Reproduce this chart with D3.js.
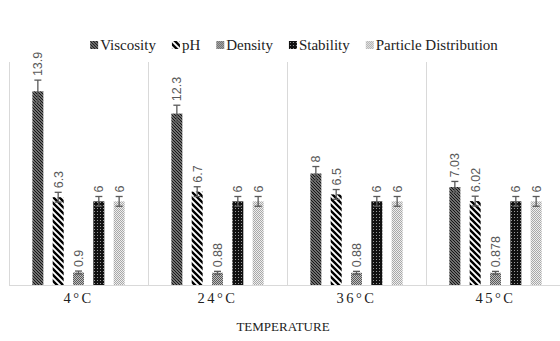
<!DOCTYPE html>
<html>
<head>
<meta charset="utf-8">
<script src="https://cdn.jsdelivr.net/npm/d3@7"></script>
<style>
  body { margin: 0; background: #fff; }
  svg { display: block; }
  .serif { font-family: "Liberation Serif", "Times New Roman", serif; }
  .sans { font-family: "Liberation Sans", Arial, sans-serif; }
</style>
</head>
<body>
<div id="chart"></div>
<script>
const temperatures = ['4°C', '24°C', '36°C', '45°C'];
const series = ['Viscosity', 'pH', 'Density', 'Stability', 'Particle Distribution'];
const viscosity = [13.9, 12.3, 8, 7.03];
const ph = [6.3, 6.7, 6.5, 6.02];
const density = [0.9, 0.88, 0.88, 0.878];
const stability = [6, 6, 6, 6];
const particle = [6, 6, 6, 6];
const labels = [
  ['13.9', '12.3', '8', '7.03'],
  ['6.3', '6.7', '6.5', '6.02'],
  ['0.9', '0.88', '0.88', '0.878'],
  ['6', '6', '6', '6'],
  ['6', '6', '6', '6']
];
const errors = [
  [0.8, 0.6, 0.5, 0.4],
  [0.35, 0.35, 0.35, 0.35],
  [0.1, 0.1, 0.1, 0.1],
  [0.35, 0.35, 0.35, 0.35],
  [0.35, 0.35, 0.35, 0.35]
];
const values = [viscosity, ph, density, stability, particle];

const width = 560, height = 341;
const plot = { left: 9, right: 565, top: 62, bottom: 285 };

const svg = d3.select('#chart').append('svg')
  .attr('width', width)
  .attr('height', height);

// fill patterns
const defs = svg.append('defs');

const pVisc = defs.append('pattern').attr('id', 'p0')
  .attr('patternUnits', 'userSpaceOnUse').attr('width', 3).attr('height', 3);
pVisc.append('rect').attr('width', 3).attr('height', 3).attr('fill', '#9a9a9a');
pVisc.append('path').attr('d', 'M0,0 L3,3 M-1,2 L1,4 M2,-1 L4,1')
  .attr('stroke', '#111').attr('stroke-width', 1.2);

const pPh = defs.append('pattern').attr('id', 'p1')
  .attr('patternUnits', 'userSpaceOnUse').attr('width', 6).attr('height', 6);
pPh.append('rect').attr('width', 6).attr('height', 6).attr('fill', '#fff');
pPh.append('path').attr('d', 'M0,0 L6,6 M-3,3 L3,9 M3,-3 L9,3')
  .attr('stroke', '#000').attr('stroke-width', 2.4);

const pDen = defs.append('pattern').attr('id', 'p2')
  .attr('patternUnits', 'userSpaceOnUse').attr('width', 2).attr('height', 2);
pDen.append('rect').attr('width', 2).attr('height', 2).attr('fill', '#bdbdbd');
pDen.append('rect').attr('width', 1).attr('height', 1).attr('fill', '#5a5a5a');
pDen.append('rect').attr('x', 1).attr('y', 1).attr('width', 1).attr('height', 1).attr('fill', '#5a5a5a');

const pStab = defs.append('pattern').attr('id', 'p3')
  .attr('patternUnits', 'userSpaceOnUse').attr('width', 3).attr('height', 3);
pStab.append('rect').attr('width', 3).attr('height', 3).attr('fill', '#111');
pStab.append('rect').attr('x', 1).attr('y', 1).attr('width', 1).attr('height', 1).attr('fill', '#9a9a9a');

const pPart = defs.append('pattern').attr('id', 'p4')
  .attr('patternUnits', 'userSpaceOnUse').attr('width', 2).attr('height', 2);
pPart.append('rect').attr('width', 2).attr('height', 2).attr('fill', '#eeeeee');
pPart.append('rect').attr('width', 1).attr('height', 1).attr('fill', '#a8a8a8');
pPart.append('rect').attr('x', 1).attr('y', 1).attr('width', 1).attr('height', 1).attr('fill', '#a8a8a8');

const x0 = d3.scaleBand()
  .domain(temperatures)
  .range([plot.left, plot.right]);

const x1 = d3.scaleBand()
  .domain(series)
  .range([0, x0.bandwidth()])
  .paddingInner(0.46)
  .paddingOuter(1.15);

const y = d3.scaleLinear()
  .domain([0, 16])
  .range([plot.bottom, plot.top]);

// frame lines
const grid = svg.append('g').attr('stroke', '#d9d9d9').attr('stroke-width', 1);
temperatures.forEach(t => {
  grid.append('line')
    .attr('x1', Math.round(x0(t)) + 0.5).attr('x2', Math.round(x0(t)) + 0.5)
    .attr('y1', plot.top).attr('y2', plot.bottom);
});
grid.append('line')
  .attr('x1', plot.left).attr('x2', width)
  .attr('y1', plot.bottom + 0.5).attr('y2', plot.bottom + 0.5);

// bars
series.forEach((s, si) => {
  const g = svg.append('g');
  temperatures.forEach((t, ti) => {
    const v = values[si][ti];
    const e = errors[si][ti];
    const bx = x0(t) + x1(s);
    const cx = bx + x1.bandwidth() / 2;

    g.append('rect')
      .attr('x', bx)
      .attr('y', y(v))
      .attr('width', x1.bandwidth())
      .attr('height', y(0) - y(v))
      .attr('fill', `url(#p${si})`);

    const eg = g.append('g').attr('stroke', '#595959').attr('stroke-width', 1.3);
    eg.append('line').attr('x1', cx).attr('x2', cx).attr('y1', y(v + e)).attr('y2', y(v - e));
    eg.append('line').attr('x1', cx - 3.5).attr('x2', cx + 3.5).attr('y1', y(v + e)).attr('y2', y(v + e));
    eg.append('line').attr('x1', cx - 3.5).attr('x2', cx + 3.5).attr('y1', y(v - e)).attr('y2', y(v - e));

    g.append('text')
      .attr('class', 'sans')
      .attr('transform', `translate(${cx + 4.5},${y(v + e) - 4}) rotate(-90)`)
      .attr('font-size', 12.5)
      .attr('fill', '#595959')
      .text(labels[si][ti]);
  });
});

// category labels
svg.append('g').selectAll('text')
  .data(temperatures)
  .join('text')
  .attr('class', 'serif')
  .attr('x', d => x0(d) + x0.bandwidth() / 2)
  .attr('y', 303)
  .attr('text-anchor', 'middle')
  .attr('font-size', 14.5)
  .attr('letter-spacing', 2.5)
  .attr('fill', '#222')
  .text(d => d);

svg.append('text')
  .attr('class', 'serif')
  .attr('x', 283)
  .attr('y', 331)
  .attr('text-anchor', 'middle')
  .attr('font-size', 13)
  .attr('fill', '#222')
  .text('TEMPERATURE');

// legend
const legend = svg.append('g');
let lx = 0;
series.forEach((s, si) => {
  const item = legend.append('g').attr('transform', `translate(${lx},0)`);
  item.append('rect')
    .attr('x', 0).attr('y', -9)
    .attr('width', 8).attr('height', 8)
    .attr('fill', `url(#p${si})`);
  const txt = item.append('text')
    .attr('class', 'serif')
    .attr('x', 10)
    .attr('y', 0)
    .attr('font-size', 15)
    .attr('fill', '#222')
    .text(s);
  lx += 10 + txt.node().getComputedTextLength() + 16;
});
const legendWidth = lx - 16;
legend.attr('transform', `translate(${294 - legendWidth / 2},50)`);
</script>
</body>
</html>
